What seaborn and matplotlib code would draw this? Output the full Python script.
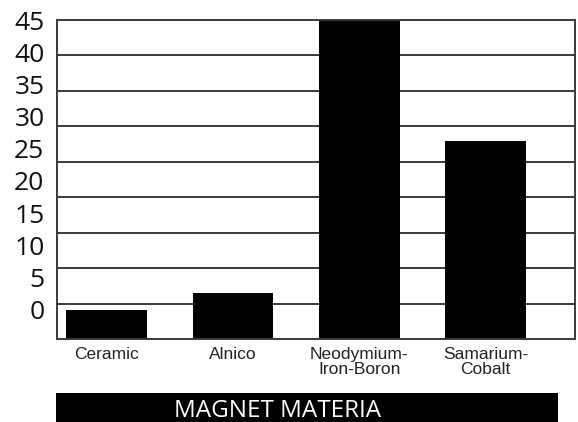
"""Magnet material bar chart."""
import matplotlib
matplotlib.use("Agg")
import matplotlib.pyplot as plt
import numpy as np
import pandas as pd
import seaborn as sns
from matplotlib.patches import Rectangle

materials = ["Ceramic", "Alnico", "Neodymium-\nIron-Boron", "Samarium-\nCobalt"]
energy = [4.1, 6.5, 45, 28]
y_labels = ["0", "5", "10", "15", "20", "25", "30", "35", "40", "45"]
grid_values = [5, 10, 15, 20, 25, 30, 35, 40]
x_title = "MAGNET MATERIA"

df = pd.DataFrame({"material": materials, "energy": energy})

sns.set_style("white")
plt.rcParams["font.family"] = ["Liberation Sans", "DejaVu Sans"]

fig = plt.figure(figsize=(5.78, 4.22), dpi=100)
ax = fig.add_axes([0.0986, 0.1967, 0.8962, 0.7559])

for v in grid_values:
    ax.axhline(v, color="#3a3a3a", lw=1.4, zorder=1)

sns.barplot(data=df, x="material", y="energy", order=materials, color="black",
            width=0.64, saturation=1, edgecolor="none", ax=ax, zorder=2)

ax.set_ylim(0, 45)
ax.set_xlim(-0.394, 3.707)
ax.set_xlabel("")
ax.set_ylabel("")

# tick labels in the source sit slightly off the grid lines
ax.set_yticks(np.linspace(4.2, 44.9, len(y_labels)))
ax.set_yticklabels(y_labels, family=["Open Sans", "DejaVu Sans"], fontsize=19,
                   color="#111111")
ax.tick_params(axis="y", length=0, pad=9)
ax.tick_params(axis="x", length=0, pad=6, labelsize=12.5, colors="#222222")
for lab in ax.get_xticklabels():
    lab.set_linespacing(0.95)

for s in ax.spines.values():
    s.set_visible(True)
    s.set_color("#3a3a3a")
    s.set_linewidth(1.4)

fig.patches.append(Rectangle((0.0969, 0.0), 0.8685, 0.0687, transform=fig.transFigure,
                             facecolor="black", edgecolor="none"))
fig.text(0.481, 0.012, x_title, color="white", ha="center", va="baseline",
         fontsize=17.5, family=["Open Sans", "DejaVu Sans"])

fig.savefig("out.png", dpi=100)
